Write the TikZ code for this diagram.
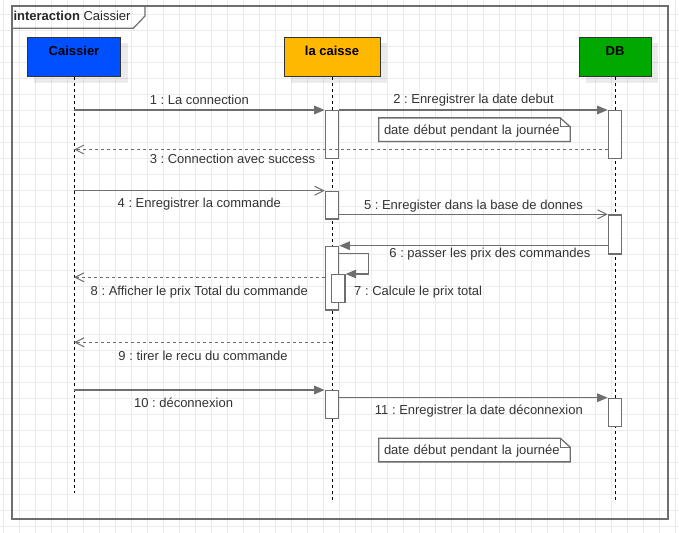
\documentclass[tikz,border=0pt]{standalone}
\usepackage{fontspec}
\setmainfont{Liberation Sans}
\usetikzlibrary{shapes,arrows.meta,shadows}
\frenchspacing

\definecolor{caisblue}{HTML}{0050FF}
\definecolor{caisorange}{HTML}{FFB800}
\definecolor{dbgreen}{HTML}{00A800}
\definecolor{umlgray}{HTML}{6E6E6E}
\definecolor{umltext}{HTML}{333333}
\definecolor{gridgray}{HTML}{EBEBEB}

\tikzset{
  gridline/.style={draw=gridgray, line width=0.8pt},
  framebox/.style={draw=umlgray, line width=1.5pt},
  headbox/.style={rectangle, draw=black!80, line width=1pt, minimum height=39.4pt, inner sep=0pt,
    text height=9.3pt, text depth=12.3pt, font=\fontsize{13}{15}\selectfont\bfseries,
    drop shadow={shadow xshift=7pt, shadow yshift=-6pt, fill=black, opacity=0.08}},
  lifeline/.style={draw=black, line width=0.9pt, dash pattern=on 3pt off 3pt},
  actbar/.style={rectangle, draw=umlgray, line width=1.4pt, fill=white, anchor=north, minimum width=13.3pt, inner sep=0pt},
  notebox/.style={rectangle, fill=white, minimum width=191pt, minimum height=23.3pt, text width=181pt, align=left,
    inner xsep=5pt, inner ysep=0pt, text height=9.3pt, text depth=0pt, font=\fontsize{13}{15}\selectfont, text=umltext},
  noteline/.style={draw=umlgray, line width=1.3pt},
  msglabel/.style={inner sep=0pt, text height=9.3pt, text depth=0pt, font=\fontsize{13}{15}\selectfont, text=umltext},
  call/.style={draw=umlgray, line width=1.3pt, -{Triangle[length=10.5pt,width=8.5pt]}},
  send/.style={draw=umlgray, line width=1.3pt, -{Straight Barb[length=9pt,width=9pt,line width=1pt]}},
  reply/.style={send, dash pattern=on 3pt off 3pt}
}

\newcommand{\umlhead}[5] {\node at (#1) (#2) [headbox, fill=#3, minimum width=#4] {#5};}
\newcommand{\umlact}[3] {\node at (#1) (#2) [actbar, minimum height=#3] {};}
\newcommand{\umlnote}[3] {\node at (#1) (#2) [notebox] {#3};
  \draw [noteline] (#2.north west) -- ([xshift=-10pt]#2.north east) -- ([yshift=-9pt]#2.north east) -- (#2.south east) -- (#2.south west) -- cycle;
  \draw [noteline, line width=1pt] ([xshift=-10pt]#2.north east) |- ([yshift=-9pt]#2.north east);}
\newcommand{\umlcall}[4] {\draw [call] (#1) -- (#2) node [msglabel, #3] {#4};}
\newcommand{\umlsend}[4] {\draw [send] (#1) -- (#2) node [msglabel, #3] {#4};}
\newcommand{\umlreply}[4] {\draw [reply] (#1) -- (#2) node [msglabel, #3] {#4};}

\begin{document}
\begin{tikzpicture}[x=1pt, y=-1pt]
\useasboundingbox (0,0) rectangle (679,532);

% background grid
\begin{scope}
\clip (0,0) rectangle (679,532);
\begin{scope}[shift={(3.33,-1.33)}]
\draw [gridline, step=16pt] (-20,560) grid (700,-20);
\end{scope}
\end{scope}

% frame
\node at (11,5.5) (frame) [framebox, anchor=north west, minimum width=656pt, minimum height=512.5pt, inner sep=0pt] {};
\coordinate (tab1) at (145,5.5);
\coordinate (tab2) at (145,16);
\coordinate (tab3) at (133.3,28.3);
\coordinate (tab4) at (11,28.3);
\draw [framebox, line width=1.2pt] (tab1) -- (tab2) -- (tab3) -- (tab4);
\node at (13.3,16) (title) [msglabel, anchor=west, text=black!85] {\textbf{interaction} Caissier};

% lifelines
\umlhead {74,57}{cais}{caisblue}{93.6pt}{Caissier}
\umlhead {332,57}{caisse}{caisorange}{96pt}{la caisse}
\umlhead {615,57}{db}{dbgreen}{72pt}{DB}
\coordinate (caisend) at (74,493);
\coordinate (caisseend) at (332,502);
\coordinate (dbend) at (615,501);
\draw [lifeline] (cais.south) -- (caisend);
\draw [lifeline] (caisse.south) -- (caisseend);
\draw [lifeline] (db.south) -- (dbend);

% activations
\umlact {332,110}{act1}{47.7pt}
\umlact {615,110}{db1}{47.7pt}
\umlact {332,190.7}{act2}{27.6pt}
\umlact {615,214.3}{db2}{39pt}
\umlact {332,245.7}{act3}{63.6pt}
\umlact {338.3,274}{act4}{28pt}
\umlact {332,390}{act5}{27.7pt}
\umlact {615,397.7}{db3}{28pt}

% notes
\umlnote {474.5,129.7}{note1}{date début pendant la journée}
\umlnote {474.5,450}{note2}{date début pendant la journée}

% messages
\coordinate (c1) at (74,110);
\coordinate (c3) at (74,149.5);
\coordinate (c4) at (74,190.7);
\coordinate (c8) at (74,277.3);
\coordinate (c9) at (74,342.3);
\coordinate (k9) at (332,342.3);
\coordinate (c10) at (74,390);
\coordinate (self1) at (368.3,253.3);
\coordinate (self2) at (368.3,274);

\umlcall {c1}{act1.north west}{midway, yshift=10.4pt}{1 : La connection}
\umlcall {act1.north east}{db1.north west}{midway, yshift=10.7pt}{2 : Enregistrer la date debut}
\umlreply {db1.west |- c3}{c3}{pos=0.703, yshift=-9.8pt}{3 : Connection avec success}
\umlsend {c4}{act2.north west}{midway, yshift=-12.3pt}{4 : Enregistrer la commande}
\umlsend {act2.east |- db2.north}{db2.north west}{midway, yshift=9.8pt}{5 : Enregister dans la base de donnes}
\umlcall {db2.west |- act3.north}{act3.north east}{pos=0.439, yshift=-7.3pt}{6 : passer les prix des commandes}
\draw [call] (act3.east |- self1) -- (self1) -- (self2) -- (act4.north east);
\node at (354,291) (lbl7) [msglabel, anchor=west] {7 : Calcule le prix total};
\umlreply {act3.west |- c8}{c8}{midway, yshift=-13.7pt}{8 : Afficher le prix Total du commande}
\umlreply {k9}{c9}{midway, yshift=-13.4pt}{9 : tirer le recu du commande}
\umlcall {c10}{act5.north west}{pos=0.437, yshift=-13pt}{10 : déconnexion}
\umlcall {act5.east |- db3.north}{db3.north west}{pos=0.52, yshift=-11.8pt}{11 : Enregistrer la date déconnexion}
\end{tikzpicture}
\end{document}
